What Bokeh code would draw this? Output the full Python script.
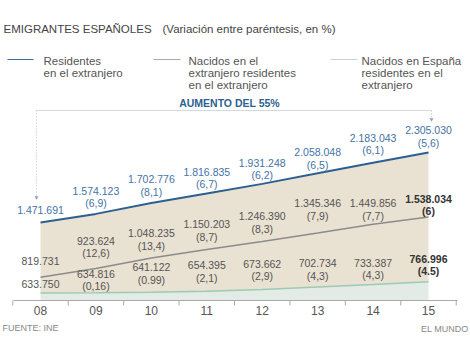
from bokeh.plotting import figure
from bokeh.models import Range1d
from bokeh.core.properties import value
from bokeh.embed import file_html
from bokeh.resources import INLINE

# ---------------- data ----------------
years = [2008, 2009, 2010, 2011, 2012, 2013, 2014, 2015]
year_labels = ["08", "09", "10", "11", "12", "13", "14", "15"]

residentes = [1471691, 1574123, 1702776, 1816835, 1931248, 2058048, 2183043, 2305030]
residentes_pct = ["", "(6,9)", "(8,1)", "(6,7)", "(6,2)", "(6,5)", "(6,1)", "(5,6)"]

nacidos_extranjero = [819731, 923624, 1048235, 1150203, 1246390, 1345346, 1449856, 1538034]
nacidos_extranjero_pct = ["", "(12,6)", "(13,4)", "(8,7)", "(8,3)", "(7,9)", "(7,7)", "(6)"]

nacidos_espana = [633750, 634816, 641122, 654395, 673662, 702734, 733387, 766996]
nacidos_espana_pct = ["", "(0,16)", "(0.99)", "(2,1)", "(2,9)", "(4,3)", "(4,3)", "(4.5)"]

title_text = "EMIGRANTES ESPAÑOLES"
subtitle_text = "(Variación entre paréntesis, en %)"
legend_texts = [
    ["Residentes", "en el extranjero"],
    ["Nacidos en el", "extranjero residentes", "en el extranjero"],
    ["Nacidos en España", "residentes en el", "extranjero"],
]
annot_text = "AUMENTO DEL 55%"
source_text = "FUENTE: INE"
credit_text = "EL MUNDO"

# label nudges (pixels, first line relative to the point)
blue_dy = [-12, -23, -24, -22, -21, -21, -25, -22]
gray_dy = [-16, -28, -25, -25, -25, -30, -21, -18]
green_dy = [-9, -19, -25, -26, -26, -24, -22, -23]

# ---------------- layout helpers ----------------
W, H = 470, 353
PX_X0 = 40.0
PX_PER_YEAR = 55.43
BASE_PX = 300.0
BASE_VAL = 543000.0
VAL_PER_PX = 11905.0


def xd(px):
    return years[0] + (px - PX_X0) / PX_PER_YEAR


def yd(py):
    return BASE_VAL + (BASE_PX - py) * VAL_PER_PX


def fmt(v):
    return f"{v:,}".replace(",", ".")


FONT = value("Liberation Sans")

p = figure(width=W, height=H, output_backend="svg", toolbar_location=None,
           x_range=Range1d(xd(0), xd(W)), y_range=Range1d(yd(H), yd(0)),
           x_axis_type=None, y_axis_type=None, min_border=0)
p.outline_line_color = None
p.grid.visible = False
p.background_fill_color = "white"
p.border_fill_color = "white"

BLUE = "#2d5f92"
BLUE_TXT = "#4573a6"
GRAY_LINE = "#8c8c8c"
GREEN_LINE = "#9ccab2"
BEIGE = "#e9e1d1"
GREEN_FILL = "#e3ebe6"
TXT = "#555555"

# ---------------- areas & lines ----------------
p.varea(x=years, y1=[BASE_VAL] * len(years), y2=nacidos_espana, fill_color=GREEN_FILL)
p.varea(x=years, y1=nacidos_espana, y2=residentes, fill_color=BEIGE)
p.line(years, nacidos_espana, line_color=GREEN_LINE, line_width=1.5)
p.line(years, nacidos_extranjero, line_color=GRAY_LINE, line_width=1.5)
p.line(years, residentes, line_color=BLUE, line_width=2)

# ---------------- axis ----------------
p.segment(x0=[xd(13)], y0=[BASE_VAL], x1=[xd(457)], y1=[BASE_VAL], line_color="#aaaaaa", line_width=1)
ticks = [y - 0.5 for y in years] + [years[-1] + 0.5]
p.segment(x0=ticks, y0=[BASE_VAL] * len(ticks), x1=ticks, y1=[yd(BASE_PX + 5)] * len(ticks),
          line_color="#aaaaaa", line_width=1)
p.text(x=years, y=[BASE_VAL] * len(years), text=year_labels, y_offset=10,
       text_align="center", text_baseline="middle", text_font=FONT,
       text_font_size="12px", text_color=TXT)


# ---------------- value labels ----------------
def series_labels(vals, pcts, dys, color, bold_last):
    n = len(vals)
    idx = list(range(n - 1)) if bold_last else list(range(n))
    for rng, style, col in ((idx, "normal", color),
                            ([n - 1] if bold_last else [], "bold", "#333333")):
        if not rng:
            continue
        xs = [years[i] for i in rng]
        ys = [vals[i] for i in rng]
        p.text(x=xs, y=ys, text=[fmt(vals[i]) for i in rng], y_offset=[dys[i] for i in rng],
               text_align="center", text_baseline="middle", text_font=FONT,
               text_font_size="10.5px", text_color=col, text_font_style=style)
        p.text(x=xs, y=ys, text=[pcts[i] for i in rng], y_offset=[dys[i] + 12.5 for i in rng],
               text_align="center", text_baseline="middle", text_font=FONT,
               text_font_size="10.5px", text_color=col, text_font_style=style)


series_labels(residentes, residentes_pct, blue_dy, BLUE_TXT, False)
series_labels(nacidos_extranjero, nacidos_extranjero_pct, gray_dy, "#555555", True)
series_labels(nacidos_espana, nacidos_espana_pct, green_dy, "#555555", True)

# ---------------- bracket annotation ----------------
BR = "#d3d9e0"
p.line([xd(36), xd(36)], [yd(110), yd(196)], line_color="#b9c3cf", line_width=1.2, line_dash="1 2")
p.line([xd(36), xd(431)], [yd(110), yd(110)], line_color=BR, line_width=1.2)
p.line([xd(431), xd(431)], [yd(110), yd(118)], line_color="#b9c3cf", line_width=1.2, line_dash="1 2")
p.scatter(x=[xd(36), xd(431)], y=[yd(197), yd(119)], marker="inverted_triangle", size=4,
          fill_color="#8fa3b8", line_color=None)
p.text(x=[xd(229)], y=[yd(102)], text=[annot_text], text_align="center", text_baseline="middle",
       text_font=FONT, text_font_size="10.5px", text_font_style="bold", text_color="#2f5f8f")

# ---------------- title ----------------
p.text(x=[xd(3)], y=[yd(28)], text=[title_text], text_align="left", text_baseline="middle",
       text_font=FONT, text_font_size="11.5px", text_color="#444444")
p.text(x=[xd(162)], y=[yd(28)], text=[subtitle_text], text_align="left", text_baseline="middle",
       text_font=FONT, text_font_size="11.5px", text_color="#444444")

# ---------------- legend ----------------
leg_line_x = [(7, 33), (153, 180), (330, 357)]
leg_text_x = [43, 188, 361]
leg_colors = ["#3d6d9e", "#aaaaaa", "#c9d3cc"]
for (a, b), tx, col, lines in zip(leg_line_x, leg_text_x, leg_colors, legend_texts):
    p.line([xd(a), xd(b)], [yd(59), yd(59)], line_color=col, line_width=1.2)
    p.text(x=[xd(tx)] * len(lines), y=[yd(60 + 12 * k) for k in range(len(lines))], text=lines,
           text_align="left", text_baseline="middle", text_font=FONT,
           text_font_size="11.5px", text_color="#555555")

# ---------------- footer ----------------
p.text(x=[xd(2)], y=[yd(327)], text=[source_text], text_align="left", text_baseline="middle",
       text_font=FONT, text_font_size="9px", text_color="#888888")
p.text(x=[xd(468)], y=[yd(328)], text=[credit_text], text_align="right", text_baseline="middle",
       text_font=FONT, text_font_size="9px", text_color="#888888")

open("out.html", "w").write(file_html(p, INLINE))
